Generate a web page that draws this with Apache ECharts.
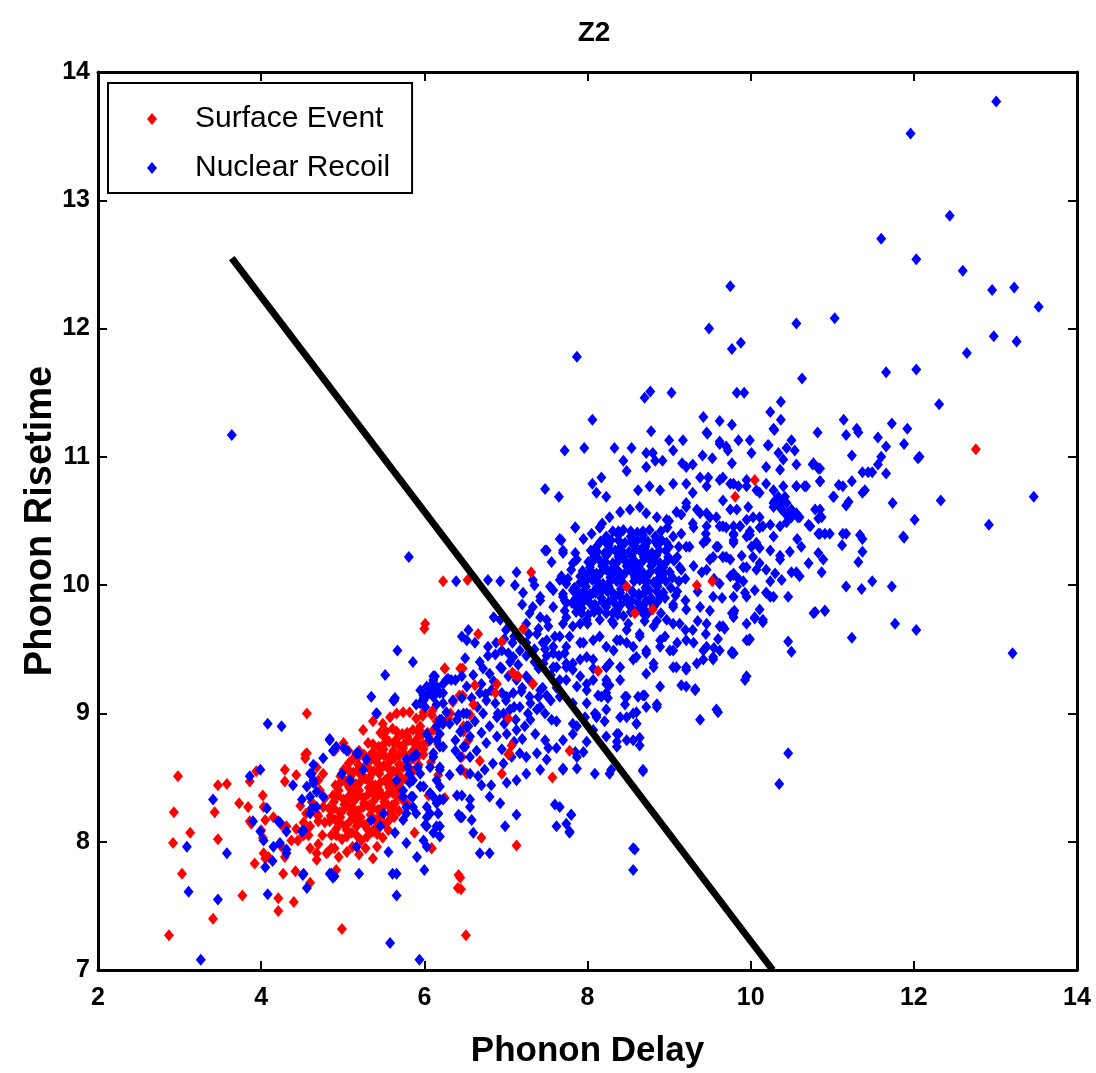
<!DOCTYPE html>
<html>
<head>
<meta charset="utf-8">
<title>Z2</title>
<script src="https://cdn.jsdelivr.net/npm/echarts@6/dist/echarts.min.js"></script>
<style>
  html, body { margin: 0; padding: 0; background: #fff; }
  #chart { width: 1096px; height: 1073px; }
</style>
</head>
<body>
<div id="chart"></div>
<script>
// axis ticks
const xTicks = [2, 4, 6, 8, 10, 12, 14]
const yTicks = [7, 8, 9, 10, 11, 12, 13, 14]

// dividing line drawn on the plot
const cutLine = [[3.64, 12.55], [10.27, 7.0]]

// Surface Event: dense core
const redCore = [
  [4.86,8.05],[4.99,8.02],[5.11,8.07],[5.23,8.01],[5.36,8.08],[5.49,8.03],
  [4.78,8.15],[4.91,8.17],[5.03,8.12],[5.15,8.18],[5.27,8.13],[5.39,8.17],[5.51,8.14],[5.63,8.19],
  [4.83,8.26],[4.96,8.23],[5.07,8.28],[5.19,8.24],[5.31,8.28],[5.43,8.25],[5.56,8.28],[5.69,8.24],
  [4.88,8.36],[5.01,8.33],[5.13,8.38],[5.25,8.34],[5.37,8.38],[5.49,8.35],[5.61,8.38],[5.73,8.33],
  [4.91,8.44],[5.03,8.47],[5.16,8.45],[5.28,8.49],[5.40,8.44],[5.52,8.48],[5.64,8.45],[5.77,8.49],
  [5.01,8.56],[5.13,8.54],[5.26,8.58],[5.38,8.55],[5.50,8.59],[5.62,8.55],[5.74,8.58],[5.86,8.55],
  [5.13,8.65],[5.26,8.68],[5.39,8.64],[5.51,8.67],[5.63,8.65],[5.75,8.69],[5.87,8.65],[5.99,8.68],
  [5.31,8.77],[5.44,8.74],[5.57,8.78],[5.69,8.75],[5.81,8.79],[5.93,8.75],[6.04,8.78],
  [5.46,8.85],[5.61,8.88],[5.73,8.84],[5.86,8.87],[5.98,8.84],[6.11,8.87],
  [4.70,8.20],[4.62,8.31],[4.72,8.40],[4.60,8.12],[4.75,8.05],[4.90,7.95],[5.05,7.92],[5.20,7.90],
  [4.55,8.22],[4.66,8.46],
  [4.92,8.10],[5.05,8.09],[5.17,8.12],[5.30,8.10],[5.42,8.12],[5.56,8.09],
  [4.85,8.20],[4.97,8.19],[5.10,8.22],[5.22,8.19],[5.34,8.21],[5.46,8.20],[5.58,8.22],
  [4.89,8.31],[5.02,8.29],[5.14,8.32],[5.26,8.30],[5.38,8.32],[5.51,8.31],[5.64,8.30],[5.78,8.30],
  [4.95,8.40],[5.08,8.42],[5.20,8.40],[5.32,8.42],[5.45,8.40],[5.57,8.42],[5.69,8.40],
  [4.97,8.51],[5.09,8.50],[5.22,8.52],[5.33,8.50],[5.45,8.53],[5.57,8.51],[5.69,8.52],[5.80,8.50],
  [5.07,8.61],[5.19,8.60],[5.32,8.62],[5.44,8.60],[5.57,8.62],[5.69,8.60],[5.81,8.62],[5.93,8.60],
  [5.20,8.71],[5.37,8.70],[5.50,8.72],[5.62,8.71],[5.74,8.73],[5.87,8.71],[5.99,8.72],
  [5.52,8.81],[5.66,8.80],[5.79,8.82],[5.92,8.81],[6.05,8.82],
  [4.70,7.98],[4.82,7.92],[4.95,7.88],[5.12,7.96],[5.28,7.95],[5.42,7.96],[4.58,8.05],[4.52,8.15],
  [4.48,8.28],
  [4.92,8.05],[5.05,8.04],[5.17,8.05],[5.30,8.04],[5.42,8.06],
  [4.84,8.16],[4.97,8.15],[5.09,8.16],[5.21,8.15],[5.33,8.16],[5.45,8.15],[5.57,8.17],
  [4.89,8.26],[5.01,8.25],[5.13,8.26],[5.25,8.27],[5.37,8.26],[5.49,8.27],[5.62,8.26],
  [4.94,8.36],[5.07,8.35],[5.19,8.36],[5.31,8.37],[5.43,8.36],[5.55,8.37],[5.67,8.36],
  [4.97,8.46],[5.09,8.46],[5.22,8.47],[5.34,8.46],[5.46,8.46],[5.58,8.47],[5.70,8.46],
  [5.07,8.56],[5.19,8.56],[5.32,8.57],[5.44,8.56],[5.56,8.57],[5.68,8.56],[5.80,8.57],
  [5.19,8.66],[5.32,8.66],[5.45,8.67],[5.57,8.66],[5.69,8.67],[5.81,8.66],[5.93,8.67],
  [5.37,8.76],[5.50,8.76],[5.63,8.77],[5.75,8.76],[5.87,8.77],[5.98,8.76],
  [5.53,8.86],[5.66,8.86],[5.79,8.85],[5.92,8.86],[6.04,8.85]
]

// Surface Event: scattered points
const redSpread = [
  [2.98,8.51],[3.47,8.44],[3.58,8.45],[2.93,8.23],[3.43,8.23],[3.13,8.07],[2.92,7.99],[3.47,8.02],
  [3.03,7.75],[3.41,7.40],[2.87,7.27],[3.77,7.58],[4.21,7.56],[4.21,7.46],[4.40,7.53],[4.27,7.75],
  [4.42,7.77],[3.92,7.83],[4.05,7.87],[4.29,7.88],[4.02,8.03],[3.88,8.14],[4.03,8.27],[4.02,8.36],
  [3.73,8.30],[3.84,8.27],[3.86,8.47],[3.94,8.55],[4.29,8.56],[4.29,8.47],[4.43,8.52],[4.54,8.68],
  [4.56,9.00],[4.99,7.32],[4.60,7.68],[5.37,7.87],[4.92,7.78],[5.88,8.07],[6.09,7.95],
  [3.86,8.16],[4.00,8.09],[4.05,8.17],[4.15,8.19],[4.25,8.13],[4.31,8.12],[4.37,8.01],[4.45,8.01],
  [4.43,8.10],[4.52,8.05],[4.03,7.91],[4.09,7.88],[4.25,7.96],[4.68,8.22],[4.70,8.16],[4.76,8.27],
  [4.78,8.34],[4.60,7.95],[4.68,7.91],[4.80,7.91],[4.86,7.95],[4.68,7.86],[4.56,8.69],[4.54,8.65],
  [4.68,8.58],[4.76,8.53],[4.70,8.48],[4.90,8.71],[5.01,8.77],[5.07,8.71],[5.25,8.87],[5.37,8.94],
  [5.49,8.92],[5.58,8.97],[5.66,9.00],[5.74,9.01],[5.82,9.01],[5.90,8.96],[5.99,9.01],[6.09,8.99],
  [6.15,8.94],[6.25,9.35],[6.13,9.16],[6.44,9.35],
  [6.23,10.03],[6.53,10.04],[7.31,10.10],[6.01,9.70],[6.00,9.66],[6.66,9.62],[6.95,9.56],[7.21,9.66],
  [8.48,9.99],[8.58,9.78],[8.80,9.81],[9.34,10.00],[9.53,10.03],[8.13,9.33],[7.33,9.23],[10.05,10.82],
  [9.81,10.69],[12.76,11.06],
  [6.25,9.35],[6.47,9.35],[6.62,9.22],[6.89,9.23],[7.08,9.32],[7.15,9.29],[7.33,9.23],[6.13,9.16],
  [6.47,9.14],[6.35,9.09],[6.60,9.07],[6.87,9.16],[5.98,8.98],[6.10,9.02],[6.22,8.92],[6.32,9.00],
  [6.56,8.99],[6.48,8.86],[7.03,8.96],[7.07,8.75],[7.03,8.68],[6.68,8.63],[6.46,8.56],[6.52,8.53],
  [6.95,8.53],[6.17,8.52],[6.05,8.36],[6.25,8.34],[6.70,8.03],[7.13,7.97],[6.09,7.95],[7.78,8.71],
  [7.57,8.50],[6.35,9.10],[6.43,9.14],[6.48,8.90],[6.29,8.96],[6.17,8.76],[6.45,8.86],[6.54,8.79],
  [6.46,8.66],[5.55,8.45],[5.70,8.60],[5.85,8.70],[5.95,8.90],[6.08,8.62],[5.60,8.28],
  [6.42,7.74],[6.45,7.63],[6.51,7.27],[6.44,7.72],[6.41,7.64],[7.11,9.30],[7.04,8.69]
]

// Nuclear Recoil: main cluster and upper right
const blueUpper = [
  // dense core
  [7.86,9.79],[8.01,9.77],[8.14,9.80],[8.31,9.78],[8.44,9.76],[8.61,9.80],[8.74,9.78],
  [7.81,9.86],[7.96,9.88],[8.09,9.85],[8.26,9.87],[8.41,9.85],[8.54,9.88],[8.71,9.86],[8.86,9.87],
  [7.88,9.95],[8.03,9.93],[8.18,9.96],[8.31,9.94],[8.63,9.93],[8.76,9.96],[8.93,9.94],
  [7.91,10.02],[8.06,10.04],[8.19,10.01],[8.36,10.03],[8.64,10.04],[8.81,10.02],[8.96,10.03],
  [7.94,10.11],[8.11,10.09],[8.26,10.11],[8.39,10.10],[8.56,10.12],[8.69,10.09],[8.86,10.11],[9.01,10.10],
  [8.01,10.18],[8.14,10.20],[8.31,10.17],[8.46,10.19],[8.59,10.18],[8.76,10.20],[8.89,10.17],[9.06,10.19],
  [8.04,10.27],[8.21,10.25],[8.34,10.27],[8.51,10.26],[8.66,10.28],[8.79,10.25],[8.96,10.27],
  [8.16,10.34],[8.29,10.35],[8.46,10.33],[8.61,10.35],[8.74,10.34],[8.91,10.35],
  [8.31,10.42],[8.44,10.43],[8.61,10.41],[8.76,10.43],
  [7.93,9.82],[8.08,9.82],[8.23,9.83],[8.37,9.81],[8.53,9.83],[8.68,9.82],[8.81,9.83],
  [7.86,9.90],[8.02,9.91],[8.17,9.90],[8.33,9.91],[8.48,9.90],[8.63,9.91],[8.78,9.90],[8.95,9.90],
  [7.84,9.98],[7.98,9.99],[8.11,9.98],[8.26,9.99],[8.41,9.97],[8.71,9.98],[8.86,9.99],[9.02,9.98],
  [7.97,10.06],[8.13,10.07],[8.28,10.06],[8.43,10.07],[8.58,10.06],[8.73,10.07],[8.88,10.06],[9.04,10.06],
  [8.03,10.14],[8.18,10.15],[8.33,10.14],[8.48,10.15],[8.63,10.14],[8.78,10.15],[8.93,10.14],
  [8.08,10.22],[8.23,10.23],[8.38,10.22],[8.54,10.23],[8.69,10.22],[8.84,10.23],[8.99,10.22],
  [8.11,10.30],[8.26,10.31],[8.41,10.30],[8.57,10.31],[8.71,10.30],[8.86,10.31],
  [8.23,10.38],[8.38,10.39],[8.53,10.38],[8.68,10.39],[8.83,10.38],
  [7.93,9.78],[8.08,9.79],[8.23,9.78],[8.37,9.77],[8.53,9.79],[8.68,9.78],
  [7.88,9.87],[8.03,9.86],[8.18,9.87],[8.33,9.86],[8.48,9.87],[8.62,9.86],[8.78,9.87],
  [7.95,9.95],[8.10,9.94],[8.25,9.95],[8.40,9.94],[8.55,9.95],[8.70,9.94],[8.85,9.95],
  [7.98,10.03],[8.13,10.02],[8.28,10.03],[8.43,10.02],[8.57,10.03],[8.72,10.02],[8.88,10.03],
  [8.02,10.10],[8.18,10.11],[8.33,10.10],[8.48,10.11],[8.62,10.10],[8.78,10.11],[8.93,10.10],
  [8.07,10.19],[8.22,10.18],[8.38,10.19],[8.53,10.18],[8.68,10.19],[8.82,10.18],[8.98,10.19],
  [8.12,10.26],[8.28,10.27],[8.43,10.26],[8.58,10.27],[8.72,10.26],[8.88,10.27],
  [8.22,10.34],[8.38,10.35],[8.53,10.34],[8.68,10.35],[8.83,10.34],
  [8.38,10.42],[8.53,10.42],[8.68,10.42],
  // edge of the core
  [7.72,9.80],[7.70,9.93],[7.76,10.05],[7.80,10.12],[7.85,10.25],[7.95,10.36],[8.05,10.40],[8.18,10.48],
  [9.08,9.92],[9.12,10.03],[9.15,10.12],[9.12,10.30],[9.05,10.38],[8.98,10.45],[8.90,9.78],[8.85,9.72],
  [8.70,9.72],[8.50,9.70],[8.30,9.72],[8.00,9.70],
  // around the core
  [9.00,10.30],[9.10,10.22],[9.15,10.40],[9.25,10.30],[9.30,10.15],[9.20,10.05],[9.10,9.95],[9.05,9.85],
  [9.20,9.88],[9.35,9.95],[9.40,10.10],[9.50,10.20],[9.45,10.40],[9.60,10.30],[9.55,10.05],[9.65,9.90],
  [9.50,9.80],[9.35,9.72],[9.20,9.65],[9.05,9.70],[8.95,9.60],[9.10,9.55],[9.30,9.55],[9.45,9.62],
  [9.60,9.58],[9.00,10.50],[9.15,10.55],[9.30,10.45],[8.90,10.42],[9.75,10.20],[9.85,10.05],[9.70,10.45],
  [9.80,9.80],
  [7.85,10.45],[8.15,10.45],[7.66,10.36],[7.70,10.25],[7.82,10.17],[7.68,10.07],[7.82,9.96],[7.72,9.88],
  [7.87,9.83],[7.74,9.75],[7.91,9.70],[7.78,9.60],[7.95,9.55],[7.72,9.47],[7.82,9.39],[7.99,9.44],
  [8.07,9.35],[8.23,9.26],[8.32,9.49],[8.27,9.39],[8.15,9.60],[8.36,9.57],[8.48,9.55],[8.64,9.60],
  [8.72,9.49],[8.60,9.44],[8.81,9.39],[8.89,9.57],[9.01,9.49],[9.09,9.36],[9.21,9.34],[9.34,9.39],
  [9.42,9.49],[9.54,9.42],[9.62,9.49],[9.79,9.47],[9.95,9.57],[9.66,9.68],[9.79,9.75],[9.95,9.70],
  [10.15,9.71],[10.11,9.81],[10.28,9.91],[10.19,9.94],[9.95,9.91],[9.83,9.99],[9.75,10.07],[9.91,10.14],
  [10.11,10.17],[10.24,10.27],[10.07,10.33],[9.95,10.38],[9.79,10.35],[9.66,10.22],[9.58,10.30],[9.46,10.35],
  [9.62,10.46],[9.79,10.46],[9.95,10.51],[10.15,10.46],[10.28,10.38],[10.11,10.53],[10.28,10.64],[10.11,10.72],
  [9.95,10.77],[9.79,10.79],[9.62,10.82],[9.46,10.77],[9.29,10.72],[9.21,10.64],[9.38,10.56],[9.50,10.53],
  [7.50,10.27],[7.70,10.27],[7.87,10.20],[8.07,10.25],[8.23,10.33],[8.44,10.22],[8.64,10.27],[8.81,10.20],
  [8.97,10.33],[9.21,10.30],[9.42,10.33],[9.54,10.22],[9.70,10.22],[9.79,10.09],[9.62,10.01],[9.46,10.12],
  [9.13,10.14],[8.93,10.09],[8.72,10.04],[8.56,10.09],[8.40,10.09],[8.23,10.12],[8.07,10.09],[7.91,10.07],
  [7.74,10.01],[7.58,9.96],[7.42,9.91],[7.33,9.83],[7.25,9.70],[7.42,9.75],[7.58,9.83],[7.74,9.86],
  [7.91,9.91],[8.07,9.94],[8.23,9.96],[8.40,9.91],[8.56,9.94],[8.72,9.88],[8.89,9.91],[9.05,9.83],
  [9.21,9.81],[9.38,9.83],[9.54,9.91],[9.79,9.78],[9.62,9.68],[9.46,9.70],[9.29,9.65],[9.13,9.70],
  [8.97,9.73],[8.81,9.68],[8.64,9.62],[8.48,9.65],[8.32,9.70],[8.15,9.73],[7.99,9.73],[7.82,9.68],
  [7.66,9.60],[7.50,9.57],[7.58,9.47],[7.74,9.52],[7.91,9.55],[8.07,9.57],[8.23,9.52],[8.40,9.57],
  [8.56,9.52],[8.72,9.47],[8.89,9.52],[9.05,9.49],[9.21,9.57],[9.46,9.52],[9.54,9.44],[9.79,9.47],
  [7.58,9.36],[7.74,9.39],[7.91,9.42],[8.07,9.42],[8.23,9.36],[8.40,9.36],[8.56,9.42],[8.81,9.36],
  [9.05,9.36],[9.21,9.36],[9.42,9.42],[7.91,9.29],[8.07,9.26],[8.23,9.23],[8.40,9.26],[8.72,9.31],
  [8.89,9.21],[9.21,9.21],[9.32,9.18],[9.58,9.03],[9.38,8.95],[8.85,9.07],[8.68,9.14],[8.48,9.13],
  [8.23,9.16],
  // lower half of the cluster and the band
  [7.13,10.10],[6.93,10.03],[6.78,10.04],[6.39,10.03],[7.11,10.00],[6.93,9.73],[6.54,9.65],[6.46,9.60],
  [6.52,9.57],[6.62,9.55],[6.78,9.52],[6.50,9.43],[6.68,9.40],[6.87,9.46],[6.95,9.49],[7.03,9.47],
  [7.09,9.44],[7.17,9.49],[6.93,9.36],[7.03,9.29],[7.13,9.26],[7.25,9.29],[6.80,9.31],[6.70,9.23],
  [6.82,9.18],[6.95,9.16],[6.76,9.10],[6.87,9.08],[7.01,9.13],[7.09,9.16],[7.19,9.17],[7.29,9.13],
  [7.40,9.13],[7.50,9.14],[7.17,9.05],[7.27,9.00],[7.38,9.03],[7.48,9.00],[7.56,8.95],[7.62,8.94],
  [6.97,9.00],[7.05,9.03],[6.89,8.97],[6.72,9.00],[6.62,8.94],[7.01,8.84],[7.13,8.87],[7.23,8.90],
  [7.36,8.84],[7.48,8.79],[7.52,8.73],[7.38,8.69],[7.25,8.66],[7.17,8.69],[7.07,8.66],[6.97,8.61],
  [6.84,8.61],[6.74,8.56],[6.66,8.51],[6.76,8.77],[6.89,8.82],[6.64,8.71],[6.70,8.44],[6.82,8.44],
  [7.01,8.46],[7.13,8.48],[7.25,8.53],[7.42,8.56],[7.50,8.64],[7.70,8.56],[7.87,8.66],[7.62,8.73],
  [7.70,8.79],[7.82,8.84],[8.07,8.87],[8.23,8.82],[8.36,8.84],[8.48,8.79],[7.82,8.92],[7.97,8.97],
  [8.11,8.97],[7.99,9.08],[7.82,9.08],[7.66,9.13],[7.74,9.26],[7.62,9.36],[7.82,9.34],[7.99,9.18],
  [8.17,9.13],[8.23,9.03],[8.40,8.97],[8.56,9.00],[8.72,9.05],[8.85,9.05],[8.60,8.92],[8.36,8.74],
  [8.56,8.79],[8.68,8.56],[7.66,8.27],[7.74,8.14],[7.80,8.21],[7.62,8.12],[7.78,8.08],[7.60,8.29],
  [7.13,8.21],[6.80,8.35],[6.93,8.30],[6.99,8.12],[6.68,7.91],[6.80,7.91],[8.56,7.95],[8.09,9.00],
  [8.29,8.56],[8.09,8.53],[6.60,8.07],
  [6.65,9.05],[6.75,9.15],[6.85,9.25],[6.95,9.35],[7.05,9.40],[7.15,9.38],[7.25,9.45],[7.35,9.50],
  [7.45,9.55],[6.90,9.00],[7.00,9.10],[7.10,9.05],[7.20,9.20],[7.30,9.25],[7.40,9.35],[7.50,9.45],
  [7.60,9.60],[7.70,9.70],[6.70,8.85],[6.80,8.90],[6.95,8.72],[7.10,8.78],[7.20,8.80],[7.30,8.95],
  [7.42,9.05],[7.55,9.10],[7.62,9.20],[7.10,9.60],[7.00,9.65],[7.20,9.85],[7.35,10.00],[6.85,9.75],
  [6.60,9.30],[6.72,9.35],[6.78,9.45],[6.88,9.55],[6.98,9.58],[7.08,9.55],[7.18,9.58],[7.28,9.62],
  [7.40,9.66],[7.52,9.68],[6.58,9.12],[6.68,9.16],[7.35,9.40],[7.48,9.50],[7.30,9.08],[7.45,9.20],
  [7.55,9.30],[7.65,9.45],[6.98,8.92],[7.12,8.95],
  [7.99,9.23],[8.13,9.14],[8.27,9.22],[8.25,9.12],[8.46,9.13],[8.46,9.07],[8.48,8.97],[8.60,9.01],
  [8.62,9.13],[8.70,9.14],[8.85,9.07],[9.15,9.22],[9.32,9.19],[9.60,9.01],[8.60,8.92],[8.38,8.84],
  [8.36,8.78],[8.64,8.81],[8.64,8.75],[8.21,8.94],[8.11,8.99],[7.99,8.78],[7.87,8.90],[7.85,8.70],
  [7.95,8.70],[7.70,8.57],[7.87,8.57],[8.27,8.53],[8.68,8.55],[10.46,8.69],[10.35,8.45],[7.80,8.21],
  [7.78,8.07],[8.58,7.94],[8.56,7.78],[9.93,9.26],
  [7.85,10.45],[8.15,10.45],[7.68,10.35],[7.48,10.27],[7.56,10.18],[7.33,10.04],[7.21,9.94],[7.42,9.88],
  [7.54,9.99],[7.66,10.04],[7.70,9.91],[7.29,9.78],[7.50,9.73],[7.38,9.62],[7.25,9.55],[7.58,9.52],
  [7.46,9.39],[7.74,9.36],[7.66,9.26],[7.87,9.21],[7.42,9.18],
  // upper edge of the cluster
  [8.77,11.51],[8.70,11.46],[9.03,11.50],[8.06,11.29],[8.78,11.20],[9.47,11.18],[9.62,11.12],[9.70,11.08],
  [10.22,11.09],[10.29,11.21],[9.00,11.13],[9.17,11.13],[9.05,11.05],[9.16,10.95],[9.21,10.92],[9.29,10.94],
  [9.41,11.01],[9.53,10.99],[9.72,11.05],[9.77,10.95],[7.72,11.05],[7.96,11.07],[8.33,11.07],[8.54,11.07],
  [8.44,10.97],[8.48,10.89],[8.72,11.03],[8.80,11.03],[8.72,10.92],[8.83,10.97],[8.92,10.97],[7.48,10.75],
  [7.65,10.69],[8.06,10.79],[8.17,10.84],[8.11,10.72],[8.23,10.69],
  [8.76,10.77],[8.62,10.74],[8.89,10.74],[9.05,10.79],[9.21,10.79],[9.38,10.84],[9.48,10.84],[9.66,10.84],
  [9.75,10.79],[9.85,10.77],[9.95,10.82],[10.07,10.74],[10.19,10.79],[10.28,10.74],[10.40,10.77],[10.56,10.77],
  [10.66,10.77],[10.77,10.95],[10.85,10.91],[10.85,10.81],[11.01,10.69],[11.13,10.77],
  [8.27,10.53],[8.40,10.57],[8.52,10.59],[8.64,10.61],[8.72,10.56],[8.85,10.53],[8.97,10.51],[9.09,10.57],
  [9.21,10.61],[9.34,10.59],[9.46,10.56],[9.58,10.53],[9.29,10.48],[9.46,10.46],[9.66,10.46],[9.79,10.40],
  [9.87,10.46],[9.99,10.42],[10.11,10.45],[10.24,10.47],[10.36,10.46],[10.44,10.49],[10.56,10.56],[10.73,10.46],
  [10.85,10.40],[10.97,10.40],[11.13,10.40],
  // right side of the cluster
  [9.66,10.66],[9.75,10.59],[9.83,10.59],[9.97,10.61],[10.03,10.53],[9.87,10.46],[9.79,10.39],[9.99,10.39],
  [9.79,10.33],[10.01,10.30],[10.11,10.29],[9.89,10.23],[9.66,10.22],[10.03,10.22],[9.95,10.14],[10.07,10.12],
  [10.19,10.12],[10.24,10.03],[10.19,9.94],[10.24,9.91],[9.79,10.08],[9.91,10.03],[9.79,9.91],[9.93,9.94],
  [10.05,9.96],[10.36,10.23],[10.36,10.20],[10.30,10.09],[10.38,10.04],[10.46,9.91],[10.38,10.59],[10.28,10.61],
  [10.46,10.56],[10.50,10.53],[10.58,10.53],[10.40,10.66],[10.44,10.64],[10.34,10.69],
  [9.85,11.13],[9.99,11.13],[10.01,11.03],[10.21,11.09],[9.62,11.10],[10.50,11.13],[10.44,11.07],[10.54,11.05],
  [10.34,11.03],[10.40,10.98],[10.56,10.94],[10.36,10.90],[10.19,10.92],[10.76,10.94],[10.83,10.91],[10.85,10.81],
  [10.68,10.77],[10.56,10.77],[10.42,10.69],[10.30,10.66],[10.36,10.61],[10.50,10.59],[10.42,10.56],[10.60,10.53],
  [10.79,10.59],[10.85,10.59],[10.83,10.52],[10.87,10.53],[10.71,10.47],[10.83,10.40],[10.91,10.40],[10.57,10.36],
  [10.62,10.30],[10.48,10.26],[10.83,10.25],[10.89,10.20],[10.71,10.17],[10.87,10.10],[10.56,10.10],[10.60,10.07],
  [10.50,10.10],[10.79,9.79],[10.91,9.80],[10.46,9.56],[10.50,9.48],[11.24,9.59],[11.77,9.70],[12.03,9.65],
  [9.95,9.29],[9.99,9.58],[9.77,9.48],[9.68,9.66],[9.77,9.78],[10.05,9.74],[10.15,9.73],
  // sparse points to the upper right
  [9.42,11.31],[9.62,11.28],[9.77,11.25],[9.46,11.19],[10.37,11.43],[10.24,11.35],[10.28,11.22],[10.37,11.29],
  [10.82,11.19],[11.14,11.29],[11.17,11.17],[11.30,11.22],[11.32,11.19],[11.56,11.15],[11.73,11.26],[11.92,11.22],
  [11.88,11.10],[11.66,11.08],[12.07,11.00],[11.24,11.01],[11.60,11.00],[11.56,10.94],[11.49,10.88],[11.37,10.88],
  [11.66,10.87],[11.08,10.78],[11.02,10.69],[11.24,10.81],[11.37,10.72],[11.17,10.62],[11.20,10.65],[11.74,10.64],
  [12.01,10.51],[12.33,10.66],[11.88,10.37],[11.17,10.40],[11.34,10.39],[11.37,10.36],[11.12,10.31],[11.37,10.26],
  [11.32,10.18],[11.49,10.03],[11.73,9.99],[11.17,9.99],[11.36,9.97],[10.91,9.80],[10.77,9.78],[9.98,9.57],
  [10.05,9.75],[9.77,9.47],[9.55,9.51],[11.44,10.88],[11.40,10.74],[12.05,10.99],[11.87,10.38],
  // outliers
  [13.01,13.77],[11.96,13.52],[12.44,12.88],[11.60,12.70],[12.03,12.54],[12.60,12.45],[12.96,12.30],[13.23,12.32],
  [13.53,12.17],[9.75,12.33],[9.49,12.00],[10.56,12.04],[11.03,12.08],[9.77,11.84],[9.88,11.89],[12.98,11.94],
  [13.26,11.90],[12.65,11.81],[10.63,11.61],[11.66,11.66],[12.03,11.68],[9.83,11.50],[9.92,11.50],[12.31,11.41],
  [7.87,11.78],[13.47,10.69],[12.92,10.47],[13.21,9.47]
]

// Nuclear Recoil: points among the surface events
const blueLower = [
  [5.67,9.49],[5.86,9.40],[5.52,9.30],[6.13,9.29],[6.27,9.26],[5.35,9.13],[5.63,9.10],[5.99,9.14],
  [5.95,9.08],[5.90,9.07],[6.07,9.21],[6.15,9.21],[6.19,9.16],[6.23,9.08],[5.41,9.00],[4.08,8.92],
  [4.25,8.90],[4.84,8.79],[4.92,8.74],[5.01,8.73],[5.17,8.69],[5.29,8.64],[5.25,8.56],[6.23,8.92],
  [6.19,8.84],[6.15,8.79],[6.23,8.74],[6.11,8.69],[6.19,8.58],[6.07,8.58],[5.90,8.68],[5.80,8.58],
  [5.95,8.53],[5.86,8.48],[3.99,8.56],[3.86,8.51],[4.60,8.53],[4.64,8.48],[4.39,8.44],[4.50,8.33],
  [4.62,8.26],[4.60,8.22],[3.41,8.33],[4.07,8.26],[3.90,8.16],[3.99,8.08],[4.23,8.15],[4.31,8.08],
  [4.03,8.01],[4.15,7.96],[4.23,7.99],[4.31,7.91],[4.52,8.09],[3.09,7.96],[3.58,7.91],[4.05,7.80],
  [4.14,7.85],[4.51,7.74],[4.56,7.64],[4.86,7.75],[4.88,7.72],[5.20,7.75],[5.56,7.92],[5.61,7.75],
  [5.66,7.75],[5.66,7.58],[6.00,7.78],[5.91,7.88],[3.11,7.61],[3.47,7.55],[4.08,7.59],[5.58,7.21],
  [5.94,7.08],[3.26,7.08],[5.64,8.07],[5.78,7.99],[5.99,8.01],[6.03,8.12],[6.15,8.12],[6.19,8.04],
  [6.17,8.22],[6.23,8.33],[6.11,8.35],[6.19,8.43],[5.17,7.96],[5.46,8.12],[5.74,8.17],[5.50,8.22],
  [5.35,8.17],[5.78,8.27],[5.86,8.35],[5.95,8.43],[5.82,8.46],[5.74,8.35],[4.64,8.60],[4.76,8.65],
  [4.99,8.53],[5.09,8.48],[4.56,8.43],[4.68,8.39],[4.76,8.35],[5.42,9.00],[4.84,8.80],[4.88,8.71],
  [5.05,8.71],[5.19,8.69],[6.11,9.29],[6.23,9.23],[6.33,9.26],[6.46,9.29],[6.52,9.21],[6.46,9.12],
  [6.23,9.16],[6.07,9.16],[5.99,9.12],[6.01,9.05],[6.15,9.07],[6.21,8.95],[6.31,8.92],[6.40,8.95],
  [6.48,9.00],[6.52,8.90],[6.56,8.82],[6.48,8.74],[6.38,8.71],[6.44,8.66],[6.56,8.66],[5.62,9.10],
  [5.78,8.64],[5.86,8.66],[5.92,8.58],[5.82,8.53],[5.66,8.48],[5.74,8.40],[5.84,8.35],[5.99,8.43],
  [6.07,8.38],[6.15,8.48],[6.19,8.33],[6.03,8.27],[5.86,8.27],[5.78,8.22],[5.90,8.22],[6.03,8.19],
  [6.17,8.22],[6.19,8.12],[6.42,8.21],[6.46,8.36],[4.62,8.53],[4.64,8.46],[4.60,8.35],[4.68,8.27],
  [4.50,8.08],[4.21,8.16],[4.31,7.94],[4.52,7.75],[4.84,7.75],[4.90,7.73],[6.46,8.19],[6.56,8.33],
  [5.64,9.12],[6.11,9.26],[6.03,9.14],[5.99,9.10],[6.13,9.18],[6.29,9.27],[6.38,9.26],
  [6.44,8.86],[6.38,8.79],[6.50,8.74],[6.54,8.90],[6.44,8.56],[6.31,8.52],[6.19,8.56],[6.11,8.66],
  [6.19,8.74],[6.07,8.79],[6.15,8.90],[6.03,8.84],[6.11,9.13],[6.03,9.21],[5.95,9.18],[6.35,9.10],
  [6.27,9.01],[6.42,8.99],[6.52,9.00],[6.19,8.95],[6.44,8.19],[6.56,8.27],[6.58,8.17],[6.40,8.36],
  [6.15,8.30],[6.07,8.22],[6.01,8.13],[6.11,8.07],[6.03,7.96],[6.56,8.53],
  [5.81,10.22],[3.64,11.17]
]

const FONT = "'Liberation Sans', Arial, Helvetica, sans-serif"

const chartDom = document.getElementById('chart')
const chart = echarts.init(chartDom, null, { renderer: 'canvas' })

const boxAxis = (position, showLabel, margin) => ({
  type: 'value',
  position: position,
  axisLine: { show: true, onZero: false, lineStyle: { color: '#000', width: 3 } },
  axisTick: { show: true, inside: true, length: 9, lineStyle: { color: '#000', width: 2 } },
  axisLabel: {
    show: showLabel,
    margin: margin,
    color: '#000',
    fontSize: 25,
    fontWeight: 'bold',
    fontFamily: FONT
  },
  splitLine: { show: false }
})

const scatter = (name, data, color) => ({
  name: name,
  type: 'scatter',
  data: data,
  symbol: 'diamond',
  symbolSize: [10, 12],
  itemStyle: { color: color, opacity: 1 },
  emphasis: { disabled: true },
  silent: true
})

chart.setOption({
  animation: false,
  backgroundColor: '#fff',
  title: {
    text: 'Z2',
    left: 589,
    top: 14,
    textAlign: 'center',
    textStyle: { color: '#000', fontSize: 28, fontWeight: 'bold', fontFamily: FONT }
  },
  legend: {
    data: ['Surface Event', 'Nuclear Recoil'],
    orient: 'vertical',
    left: 108,
    top: 83,
    icon: 'diamond',
    itemWidth: 10,
    itemHeight: 12,
    itemGap: 19,
    padding: [21, 22, 10, 39],
    backgroundColor: '#fff',
    borderColor: '#000',
    borderWidth: 2,
    borderRadius: 0,
    selectedMode: false,
    textStyle: {
      color: '#000',
      fontSize: 30,
      fontFamily: FONT,
      padding: [0, 0, 0, 33]
    }
  },
  grid: {
    left: 98,
    right: 19,
    top: 72,
    bottom: 103,
    containLabel: false,
    outerBoundsMode: 'none'
  },
  xAxis: [
    Object.assign(boxAxis('bottom', true, 16), {
      min: xTicks[0],
      max: xTicks[xTicks.length - 1],
      interval: 2,
      name: 'Phonon Delay',
      nameLocation: 'middle',
      nameGap: 64,
      nameMoveOverlap: false,
      nameTextStyle: { color: '#000', fontSize: 35, fontWeight: 'bold', fontFamily: FONT }
    }),
    Object.assign(boxAxis('top', false, 8), {
      min: xTicks[0],
      max: xTicks[xTicks.length - 1],
      interval: 2
    })
  ],
  yAxis: [
    Object.assign(boxAxis('left', true, 8), {
      min: yTicks[0],
      max: yTicks[yTicks.length - 1],
      interval: 1,
      name: 'Phonon Risetime',
      nameLocation: 'middle',
      nameRotate: 90,
      nameGap: 38,
      nameMoveOverlap: false,
      nameTextStyle: { color: '#000', fontSize: 38, fontWeight: 'bold', fontFamily: FONT }
    }),
    Object.assign(boxAxis('right', false, 8), {
      min: yTicks[0],
      max: yTicks[yTicks.length - 1],
      interval: 1
    })
  ],
  series: [
    scatter('Nuclear Recoil', blueUpper, '#0000ff'),
    scatter('Surface Event', redCore.concat(redSpread), '#ff0000'),
    scatter('Nuclear Recoil', blueLower, '#0000ff'),
    {
      name: 'cut',
      type: 'line',
      data: cutLine,
      showSymbol: false,
      symbol: 'none',
      lineStyle: { color: '#000', width: 7 },
      silent: true,
      z: 5
    }
  ]
})

window.addEventListener('resize', () => {
  chart.resize()
})
</script>
</body>
</html>
